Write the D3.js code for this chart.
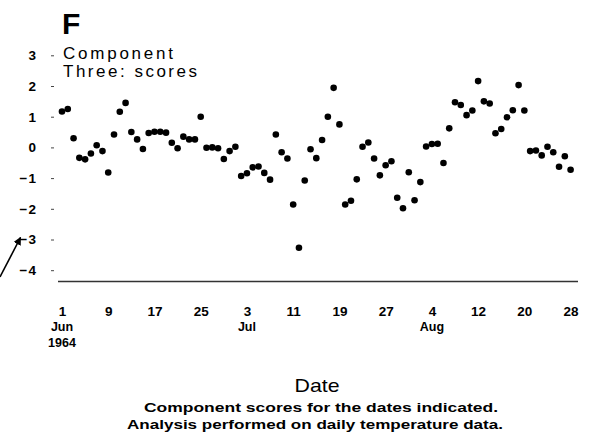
<!DOCTYPE html>
<html>
<head>
<meta charset="utf-8">
<script src="https://cdn.jsdelivr.net/npm/d3@7"></script>
<style>
  html, body { margin: 0; padding: 0; background: #fff; }
  svg { display: block; font-family: "Liberation Sans", Arial, Helvetica, sans-serif; }
</style>
</head>
<body>
<svg id="chart" width="589" height="438"></svg>
<script>
// ---- data ----
const startDate = new Date(1964, 5, 1);   // 1 Jun 1964
const scores = [
  1.17, 1.25, 0.30, -0.34, -0.39, -0.20, 0.07, -0.12, -0.82, 0.42,
  1.16, 1.45, 0.50, 0.26, -0.05, 0.47, 0.51, 0.51, 0.48, 0.15,
  -0.03, 0.35, 0.26, 0.26, 1.00, -0.01, 0.00, -0.03, -0.38, -0.12,
  0.02, -0.93, -0.84, -0.65, -0.62, -0.83, -1.05, 0.42, -0.16, -0.36,
  -1.86, -3.27, -1.08, -0.06, -0.35, 0.24, 1.00, 1.94, 0.75, -1.86,
  -1.74, -1.04, 0.02, 0.16, -0.36, -0.91, -0.58, -0.45, -1.64, -1.98,
  -0.81, -1.72, -1.13, 0.03, 0.11, 0.12, -0.51, 0.62, 1.47, 1.38,
  1.05, 1.20, 2.16, 1.50, 1.43, 0.46, 0.60, 0.98, 1.21, 2.03,
  1.20, -0.12, -0.10, -0.26, 0.02, -0.16, -0.63, -0.29, -0.73
];
const yTicks = [3, 2, 1, 0, -1, -2, -3, -4];
const xTickDays = [0, 8, 16, 24, 32, 40, 48, 56, 64, 72, 80, 88];
const monthLabels = [
  { day: 0, lines: ["Jun", "1964"] },
  { day: 32, lines: ["Jul"] },
  { day: 64, lines: ["Aug"] }
];
const panelLetter = "F";
const titleLines = ["Component", "Three:  scores"];
const xTitle = "Date";
const captionLines = [
  "Component scores for the dates indicated.",
  "Analysis performed on daily temperature data."
];

// ---- drawing ----
const svg = d3.select("#chart");
const dayDate = d => d3.timeDay.offset(startDate, d);
const points = scores.map((v, i) => ({ date: dayDate(i), value: v }));

const x = d3.scaleTime()
  .domain([dayDate(0), dayDate(88)])
  .range([62, 570.6]);
const y = d3.scaleLinear()
  .domain([-4, 3])
  .range([270.2, 55.3]);

// panel letter and title
svg.append("text")
  .attr("x", 62).attr("y", 34)
  .attr("font-size", 30).attr("font-weight", "bold")
  .text(panelLetter);

svg.selectAll("text.title").data(titleLines).enter().append("text")
  .attr("class", "title")
  .attr("x", 63)
  .attr("y", (d, i) => 58.5 + i * 18.5)
  .attr("font-size", 17)
  .attr("textLength", (d, i) => i === 0 ? 110 : 134)
  .attr("lengthAdjust", "spacing")
  .text(d => d);

// y axis
const yAxis = d3.axisLeft(y)
  .tickValues(yTicks)
  .tickSize(3)
  .tickPadding(14)
  .tickFormat(d => d < 0 ? "\u2212" + Math.abs(d) : String(d));
const gy = svg.append("g").attr("transform", "translate(54,0)").call(yAxis);
gy.select(".domain").remove();
gy.selectAll(".tick line").attr("stroke", "#444").attr("stroke-width", 1);
gy.selectAll(".tick text")
  .attr("font-family", "Liberation Sans, Arial, sans-serif")
  .attr("font-size", 13.5).attr("font-weight", "bold").attr("fill", "#000")
  .attr("letter-spacing", 1);

// baseline of x axis
svg.append("line")
  .attr("x1", 58).attr("x2", 578)
  .attr("y1", 281.5).attr("y2", 281.5)
  .attr("stroke", "#333").attr("stroke-width", 1.4);

// x tick labels
const xAxis = d3.axisBottom(x)
  .tickValues(xTickDays.map(dayDate))
  .tickSize(0)
  .tickPadding(0)
  .tickFormat(d3.timeFormat("%-d"));
const gx = svg.append("g").attr("transform", "translate(0,306)").call(xAxis);
gx.select(".domain").remove();
gx.selectAll(".tick text")
  .attr("font-family", "Liberation Sans, Arial, sans-serif")
  .attr("font-size", 13.5).attr("font-weight", "bold").attr("fill", "#000");

// month labels
monthLabels.forEach(m => {
  m.lines.forEach((t, i) => {
    svg.append("text")
      .attr("x", x(dayDate(m.day)))
      .attr("y", 331 + i * 16)
      .attr("text-anchor", "middle")
      .attr("font-size", 12.5).attr("font-weight", "bold")
      .text(t);
  });
});

// points
svg.append("g").selectAll("circle").data(points).enter().append("circle")
  .attr("cx", d => x(d.date))
  .attr("cy", d => y(d.value))
  .attr("r", 3.3)
  .attr("fill", "#000");

// arrow pointing at -3
svg.append("defs").append("marker")
  .attr("id", "ah").attr("viewBox", "0 0 10 10")
  .attr("refX", 9).attr("refY", 5)
  .attr("markerWidth", 5).attr("markerHeight", 5)
  .attr("orient", "auto")
  .append("path").attr("d", "M0,0 L10,5 L0,10 z").attr("fill", "#000");
svg.append("line")
  .attr("x1", 0).attr("y1", 277)
  .attr("x2", 20.5).attr("y2", 237.5)
  .attr("stroke", "#000").attr("stroke-width", 1.6)
  .attr("marker-end", "url(#ah)");

// axis title and caption
svg.append("text")
  .attr("x", 317).attr("y", 392)
  .attr("text-anchor", "middle")
  .attr("font-size", 19)
  .attr("textLength", 45).attr("lengthAdjust", "spacingAndGlyphs")
  .text(xTitle);

svg.selectAll("text.caption").data(captionLines).enter().append("text")
  .attr("class", "caption")
  .attr("x", (d, i) => i === 0 ? 321 : 315)
  .attr("y", (d, i) => 412 + i * 17)
  .attr("text-anchor", "middle")
  .attr("font-size", 12.5).attr("font-weight", "bold")
  .attr("textLength", (d, i) => i === 0 ? 354 : 376)
  .attr("lengthAdjust", "spacingAndGlyphs")
  .text(d => d);
</script>
</body>
</html>
